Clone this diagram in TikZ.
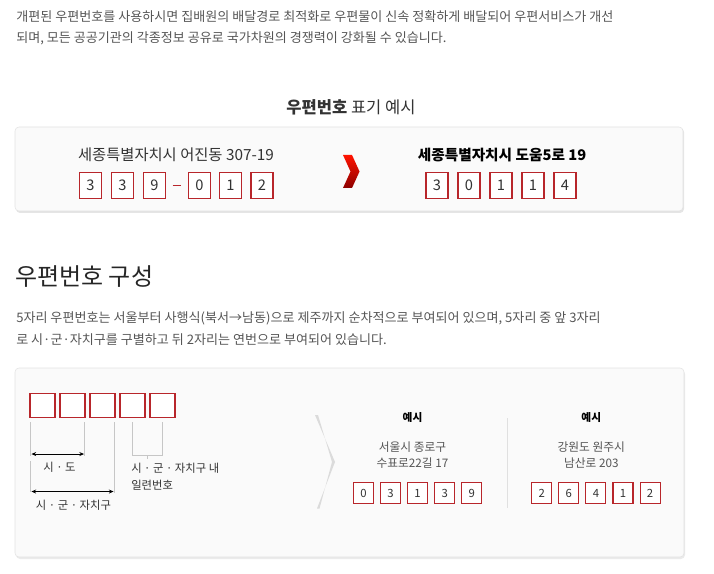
\documentclass[tikz,border=0pt]{standalone}
\usepackage{fontspec}
\setmainfont{Noto Sans CJK KR}
\usetikzlibrary{calc, arrows.meta}

\definecolor{bodygray}{HTML}{555555}
\definecolor{headgray}{HTML}{333333}
\definecolor{boxred}{HTML}{B8262B}
\definecolor{panelfill}{HTML}{FAFAFA}
\definecolor{panelline}{HTML}{E2E2E2}
\definecolor{guidegray}{HTML}{C6C6C6}

\tikzset{
	px/.style={x=0.75pt, y=-0.75pt},
	bodytext/.style={anchor=west, inner sep=0pt, text=bodygray, font=\fontsize{9.8}{11}\selectfont},
	panel/.style={draw=panelline, fill=panelfill, rounded corners=3pt},
	digitbox/.style={draw=boxred, fill=white, line width=0.8pt, inner sep=0pt, minimum width=22*0.75pt, minimum height=26*0.75pt, text=headgray, font=\fontsize{11}{12}\selectfont},
	smalldigit/.style={digitbox, minimum width=20*0.75pt, minimum height=21*0.75pt, font=\fontsize{8.5}{9}\selectfont},
	emptybox/.style={digitbox, minimum width=25*0.75pt, minimum height=24*0.75pt},
	guide/.style={draw=guidegray, line width=0.7pt},
	spanarrow/.style={{Stealth[length=3.5pt,width=3pt]}-{Stealth[length=3.5pt,width=3pt]}, line width=0.7pt},
	label/.style={inner sep=0pt, text=headgray, font=\fontsize{8.5}{13}\selectfont},
}

\begin{document}
\begin{tikzpicture}[px]
	\useasboundingbox (0,0) rectangle (714,574);

	\node[bodytext] (intro1) at (16,17) {개편된 우편번호를 사용하시면 집배원의 배달경로 최적화로 우편물이 신속 정확하게 배달되어 우편서비스가 개선};
	\node[bodytext] (intro2) at (16,38) {되며, 모든 공공기관의 각종정보 공유로 국가차원의 경쟁력이 강화될 수 있습니다.};

	\node[text=headgray, font=\fontsize{12.4}{14}\selectfont] (notetitle) at (351,107) {\textbf{우편번호} 표기 예시};

	\begin{scope}
		\fill[black!10, rounded corners=3pt] (16,128) rectangle (684,213);
		\draw[panel] (15,127) rectangle (683,211);
	\end{scope}

	\begin{scope}
		\node[text=headgray, font=\fontsize{11.5}{12}\selectfont] (oldaddr) at (176,155) {세종특별자치시 어진동 307-19};
		\foreach \d/\x [count=\i] in {3/90.5,3/122.5,9/154.5,0/199.5,1/230.5,2/262}
		{
			\node[digitbox] (old\i) at (\x,185.5) {\d};
		}
		\draw[boxred, line width=0.8pt] ($(old3.east)!0.3!(old4.west)$) -- ($(old3.east)!0.7!(old4.west)$);
	\end{scope}

	\shade[top color=red!85!orange, bottom color=red!55!black] (343,155) -- (352,155) -- (359.5,171.5) -- (352,188) -- (343,188) -- (350.5,171.5) -- cycle;

	\begin{scope}
		\node[text=black, font=\bfseries\fontsize{11}{12}\selectfont] (newaddr) at (502,155) {세종특별자치시 도움5로 19};
		\foreach \d/\x [count=\i] in {3/437,0/469,1/501,1/533,4/565}
		{
			\node[digitbox] (new\i) at (\x,185.5) {\d};
		}
	\end{scope}

	\node[anchor=west, inner sep=0pt, text=black!85, font=\fontsize{18}{20}\selectfont] (parttitle) at (15,277) {우편번호 구성};

	\node[bodytext] (part1) at (16,318) {5자리 우편번호는 서울부터 사행식(북서→남동)으로 제주까지 순차적으로 부여되어 있으며, 5자리 중 앞 3자리};
	\node[bodytext] (part2) at (16,340) {로 시·군·자치구를 구별하고 뒤 2자리는 연번으로 부여되어 있습니다.};

	\begin{scope}
		\fill[black!8, rounded corners=3pt] (16,370) rectangle (685,559);
		\draw[panel] (15,368) rectangle (684,557);
	\end{scope}

	\begin{scope}
		\foreach \i in {1,...,5}
		{
			\node[emptybox] (b\i) at (12.5+30*\i,405.5) {};
		}

		\draw[guide] ($(b1.south west)+(0.7,4)$) -- ++(0,34);
		\draw[guide] ($(b1.south west)+(0.7,43)$) -- ++(0,31);
		\draw[guide] ($(b2.south east)+(-1,4)$) -- ++(0,34);
		\draw[guide] ($(b3.south east)+(-0.7,4)$) -- ++(0,71);
		\draw[guide] ($(b4.south)+(0,4)$) -- ++(0,33) -| ($(b5.south)+(0,4)$);
		\draw[guide] ($(b4.south)!0.5!(b5.south)+(0,37)$) -- ++(0,4);

		\draw[spanarrow] ($(b1.south west)+(2,36)$) -- ($(b2.south east)+(-1.5,36)$);
		\draw[spanarrow] ($(b1.south west)+(2,73.5)$) -- ($(b3.south east)+(-2,73.5)$);

		\node[label] (sido) at (59.5,467) {시 · 도};
		\node[label] (sigungu) at (73.5,505) {시 · 군 · 자치구};
		\node[label, anchor=north west, align=left] (serial) at (131,463) {시 · 군 · 자치구 내\\일련번호};
	\end{scope}

	\fill[black!14] (315,415) -- (335,462) -- (317,508.5) -- (319.5,508.5) -- (332,462) -- (318,415) -- cycle;

	\begin{scope}
		\node[text=black, font=\bfseries\fontsize{8}{10}\selectfont] (ex1) at (412.5,418) {예시};
		\node[text=bodygray, align=center, font=\fontsize{8.8}{12.5}\selectfont] (ex1addr) at (412.5,455) {서울시 종로구\\수표로22길 17};
		\foreach \d [count=\i] in {0,3,1,3,9}
		{
			\node[smalldigit] (ea\i) at (336.3+27.1*\i,493) {\d};
		}
	\end{scope}

	\draw[draw=black!12, line width=0.8pt] (507.3,418) -- (507.3,508);

	\begin{scope}
		\node[text=black, font=\bfseries\fontsize{8}{10}\selectfont] (ex2) at (591.3,418) {예시};
		\node[text=bodygray, align=center, font=\fontsize{8.8}{12.5}\selectfont] (ex2addr) at (591.3,455) {강원도 원주시\\남산로 203};
		\foreach \d [count=\i] in {2,6,4,1,2}
		{
			\node[smalldigit] (eb\i) at (514.6+27.1*\i,493) {\d};
		}
	\end{scope}
\end{tikzpicture}
\end{document}
